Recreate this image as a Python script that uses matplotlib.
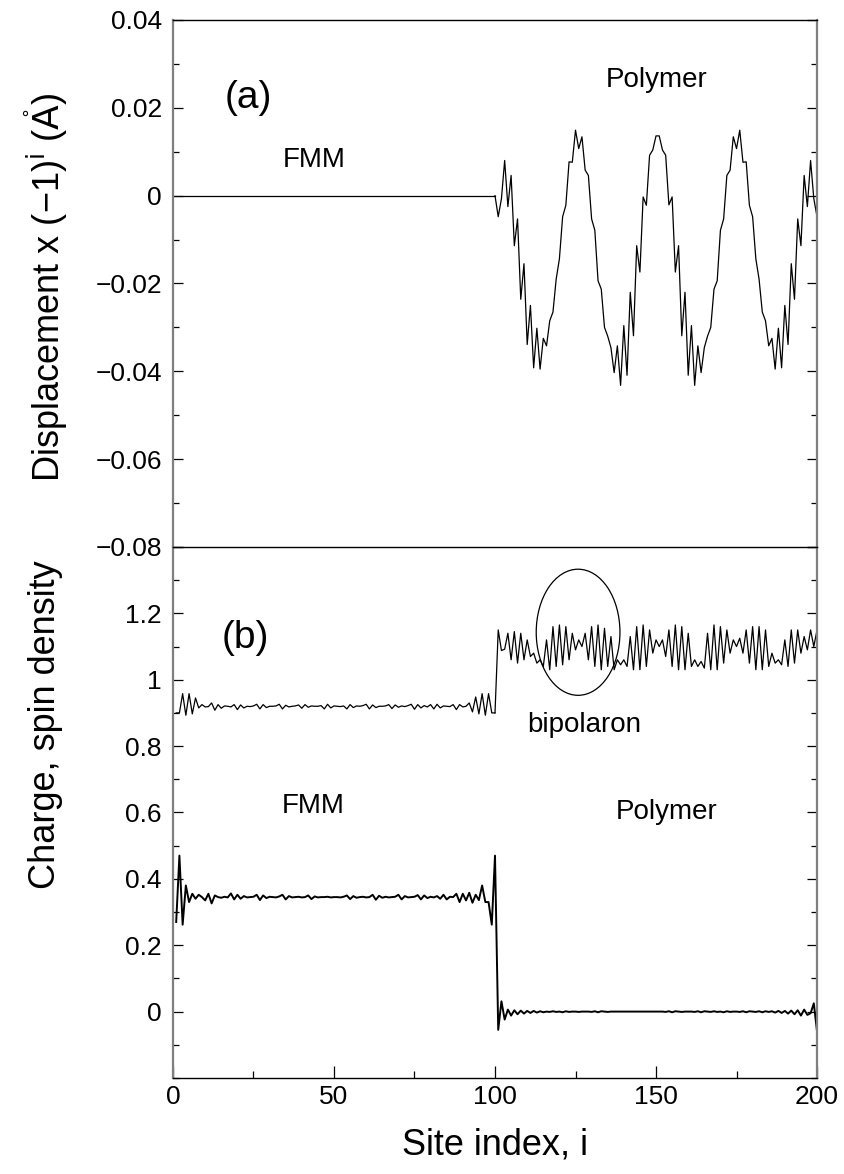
# Two-panel plot: lattice displacement (a) and charge / spin density (b)
import matplotlib.pyplot as plt
from matplotlib.patches import Ellipse
from matplotlib.ticker import MultipleLocator

plt.rcParams['font.family'] = ['Liberation Sans', 'DejaVu Sans']
label_font = ['Liberation Sans Narrow', 'Liberation Sans', 'DejaVu Sans']

# ---- data ----
# (a) displacement x (-1)^i, FMM part is flat at zero
fmm_sites_a = [0, 100]
fmm_disp = [0.0, 0.0]
poly_sites = list(range(100, 201))
poly_disp = [
    0.0000, -0.0048, -0.0007, 0.0080, -0.0025, 0.0046, -0.0114, -0.0053, -0.0236, -0.0155,
    -0.0339, -0.0250, -0.0392, -0.0302, -0.0395, -0.0325, -0.0342, -0.0285, -0.0265, -0.0190,
    -0.0144, -0.0048, -0.0022, 0.0077, 0.0076, 0.0149, 0.0107, 0.0134, 0.0058, 0.0046,
    -0.0053, -0.0079, -0.0194, -0.0213, -0.0300, -0.0320, -0.0346, -0.0403, -0.0342, -0.0432,
    -0.0296, -0.0409, -0.0220, -0.0319, -0.0114, -0.0174, -0.0003, -0.0022, 0.0092, 0.0104,
    0.0136, 0.0136, 0.0104, 0.0092, -0.0021, -0.0003, -0.0174, -0.0114, -0.0319, -0.0220,
    -0.0409, -0.0296, -0.0432, -0.0342, -0.0403, -0.0346, -0.0320, -0.0300, -0.0213, -0.0194,
    -0.0079, -0.0053, 0.0046, 0.0058, 0.0134, 0.0107, 0.0149, 0.0076, 0.0077, -0.0022,
    -0.0048, -0.0144, -0.0190, -0.0265, -0.0285, -0.0342, -0.0325, -0.0395, -0.0302, -0.0392,
    -0.0250, -0.0339, -0.0155, -0.0236, -0.0053, -0.0114, 0.0046, -0.0025, 0.0080, -0.0007,
    -0.0048,
]

# (b) sites 1..200
sites_b = list(range(1, 201))
charge = [
    # FMM 1-100
    0.900, 0.900, 0.958, 0.893, 0.958, 0.897, 0.945, 0.915, 0.925, 0.918,
    0.919, 0.930, 0.908, 0.925, 0.914, 0.921, 0.920, 0.918, 0.925, 0.910,
    0.924, 0.915, 0.920, 0.919, 0.921, 0.926, 0.912, 0.925, 0.916, 0.920,
    0.920, 0.921, 0.926, 0.912, 0.923, 0.918, 0.920, 0.921, 0.924, 0.914,
    0.925, 0.917, 0.921, 0.920, 0.920, 0.922, 0.912, 0.926, 0.915, 0.921,
    0.920, 0.919, 0.921, 0.912, 0.925, 0.916, 0.921, 0.920, 0.922, 0.926,
    0.912, 0.924, 0.916, 0.920, 0.920, 0.921, 0.925, 0.913, 0.924, 0.917,
    0.921, 0.919, 0.922, 0.926, 0.911, 0.925, 0.915, 0.922, 0.918, 0.925,
    0.912, 0.926, 0.915, 0.921, 0.920, 0.919, 0.925, 0.910, 0.925, 0.918,
    0.920, 0.930, 0.903, 0.948, 0.897, 0.958, 0.893, 0.958, 0.900, 0.900,
    # Polymer 101-200
    1.150, 1.088, 1.092, 1.140, 1.060, 1.145, 1.050, 1.140, 1.060, 1.120,
    1.070, 1.080, 1.050, 1.060, 1.040, 1.120, 1.030, 1.160, 1.040, 1.165,
    1.045, 1.160, 1.060, 1.140, 1.090, 1.120, 1.100, 1.140, 1.060, 1.160,
    1.040, 1.165, 1.030, 1.155, 1.040, 1.130, 1.030, 1.060, 1.045, 1.060,
    1.040, 1.130, 1.030, 1.160, 1.030, 1.165, 1.040, 1.150, 1.080, 1.120,
    1.100, 1.120, 1.070, 1.150, 1.040, 1.165, 1.030, 1.160, 1.030, 1.140,
    1.040, 1.060, 1.040, 1.055, 1.035, 1.140, 1.030, 1.165, 1.030, 1.160,
    1.050, 1.150, 1.080, 1.120, 1.100, 1.125, 1.080, 1.150, 1.050, 1.160,
    1.030, 1.160, 1.030, 1.150, 1.040, 1.080, 1.050, 1.060, 1.045, 1.120,
    1.040, 1.150, 1.050, 1.150, 1.080, 1.130, 1.090, 1.150, 1.100, 1.150,
]
spin = [
    # FMM 1-100
    0.270, 0.470, 0.262, 0.380, 0.330, 0.355, 0.340, 0.352, 0.345, 0.335,
    0.355, 0.326, 0.350, 0.345, 0.343, 0.346, 0.344, 0.356, 0.338, 0.352,
    0.340, 0.348, 0.344, 0.345, 0.346, 0.352, 0.336, 0.350, 0.342, 0.346,
    0.345, 0.344, 0.347, 0.352, 0.338, 0.348, 0.344, 0.345, 0.346, 0.344,
    0.345, 0.350, 0.339, 0.347, 0.344, 0.345, 0.345, 0.346, 0.344, 0.345,
    0.345, 0.344, 0.346, 0.350, 0.339, 0.348, 0.343, 0.345, 0.346, 0.344,
    0.345, 0.352, 0.337, 0.349, 0.343, 0.346, 0.344, 0.345, 0.346, 0.352,
    0.338, 0.348, 0.344, 0.345, 0.346, 0.351, 0.338, 0.350, 0.342, 0.346,
    0.344, 0.348, 0.340, 0.352, 0.338, 0.346, 0.345, 0.355, 0.330, 0.355,
    0.335, 0.358, 0.328, 0.352, 0.336, 0.380, 0.330, 0.330, 0.262, 0.470,
    # Polymer 101-200
    -0.055, 0.031, -0.024, 0.006, -0.012, 0.004, -0.008, 0.003, -0.006, 0.002,
    -0.004, 0.002, -0.003, 0.001, -0.002, 0.000, -0.001, 0.001, -0.001, 0.000,
    -0.002, 0.001, -0.001, 0.000, 0.000, -0.001, 0.000, 0.000, 0.000, -0.001,
    0.001, -0.002, 0.001, 0.000, -0.001, 0.000, 0.000, 0.000, 0.000, 0.000,
    0.000, 0.000, 0.000, 0.000, 0.000, 0.000, 0.000, 0.000, 0.000, 0.000,
    0.000, 0.000, -0.001, 0.001, -0.002, 0.001, 0.000, -0.001, 0.000, 0.000,
    0.000, -0.001, 0.001, -0.002, 0.001, 0.000, -0.001, 0.001, -0.001, 0.000,
    -0.002, 0.001, -0.001, 0.000, 0.000, -0.001, 0.001, -0.002, 0.001, 0.000,
    -0.001, 0.001, -0.002, 0.001, -0.001, 0.001, -0.003, 0.002, -0.004, 0.002,
    -0.006, 0.003, -0.008, 0.004, -0.012, 0.006, -0.010, -0.005, 0.025, -0.060,
]

# bipolaron marker (centre, width in sites, height in density)
bipolaron_xy = (125.8, 1.143)
bipolaron_w = 26.0
bipolaron_h = 0.38

# ---- figure ----
fig = plt.figure(figsize=(8.45, 11.74), dpi=100)
ax1 = fig.add_axes([0.2047, 0.5341, 0.7622, 0.4489])
ax2 = fig.add_axes([0.2047, 0.0818, 0.7622, 0.4523], sharex=ax1)
ax2.patch.set_visible(False)

ax1.plot(fmm_sites_a, fmm_disp, color='black', lw=0.9)
ax1.plot(poly_sites, poly_disp, color='black', lw=0.9)

ax2.plot(sites_b[:100], charge[:100], color='black', lw=0.9)
ax2.plot(sites_b[99:], charge[99:], color='black', lw=0.9)
ax2.plot(sites_b, spin, color='black', lw=1.4)
ax2.add_patch(Ellipse(bipolaron_xy, bipolaron_w, bipolaron_h, fill=False, color='black', lw=0.9))

ax1.set_xlim(0, 200)
ax1.set_ylim(-0.08, 0.04)
ax2.set_ylim(-0.2, 1.4)

ax1.set_yticks([0.04, 0.02, 0, -0.02, -0.04, -0.06, -0.08])
ax1.set_yticklabels(['0.04', '0.02', '0', '\u22120.02', '\u22120.04', '\u22120.06', '\u22120.08'])
ax1.yaxis.set_minor_locator(MultipleLocator(0.01))
ax2.set_yticks([0, 0.2, 0.4, 0.6, 0.8, 1.0, 1.2, 1.4])
ax2.set_yticklabels(['0', '0.2', '0.4', '0.6', '0.8', '1', '1.2', ''])
ax2.yaxis.set_minor_locator(MultipleLocator(0.1))
ax2.set_xticks([0, 50, 100, 150, 200])
ax2.set_xticklabels(['0', '50', '100', '150', '200'])
ax2.xaxis.set_minor_locator(MultipleLocator(25))

for ax in (ax1, ax2):
    ax.tick_params(which='both', direction='in', left=True, right=True, labelsize=19, pad=8)
    ax.tick_params(which='major', length=7, width=0.9)
    ax.tick_params(which='minor', length=4, width=0.9)
    for side in ('left', 'right'):
        ax.spines[side].set_color('#7f7f7f')
        ax.spines[side].set_linewidth(1.6)
    ax.spines['bottom'].set_linewidth(1.0)
    ax.spines['top'].set_linewidth(1.0)

ax1.tick_params(axis='x', which='both', bottom=False, top=False, labelbottom=False)
ax2.tick_params(axis='x', which='both', top=False, bottom=True, length=9, pad=5)
ax2.tick_params(axis='x', which='minor', length=5)
ax1.spines['bottom'].set_visible(False)
ax2.spines['top'].set_color('black')

# axis labels placed in figure coordinates so both y labels line up
fig.text(0.0544, 0.7555, 'Displacement x (\u22121)$^{\\mathrm{i}}$ ($\\mathring{\\mathrm{A}}$)',
         rotation=90, fontsize=26, family=label_font, ha='center', va='center')
fig.text(0.0544, 0.3825, 'Charge, spin density', rotation=90, fontsize=26,
         family=label_font, ha='center', va='center')
fig.text(0.5858, 0.0247, 'Site index, i', fontsize=26, family=label_font,
         ha='center', va='center')

ax1.text(23.3, 0.0222, '(a)', fontsize=28, family=label_font, ha='center', va='center')
ax1.text(43.8, 0.0082, 'FMM', fontsize=20, family=label_font, ha='center', va='center')
ax1.text(150.3, 0.0263, 'Polymer', fontsize=20, family=label_font, ha='center', va='center')
ax2.text(22.4, 1.127, '(b)', fontsize=28, family=label_font, ha='center', va='center')
ax2.text(127.6, 0.865, 'bipolaron', fontsize=20, family=label_font, ha='center', va='center')
ax2.text(43.5, 0.618, 'FMM', fontsize=20, family=label_font, ha='center', va='center')
ax2.text(153.4, 0.600, 'Polymer', fontsize=20, family=label_font, ha='center', va='center')

fig.savefig('out.png', dpi=100)
